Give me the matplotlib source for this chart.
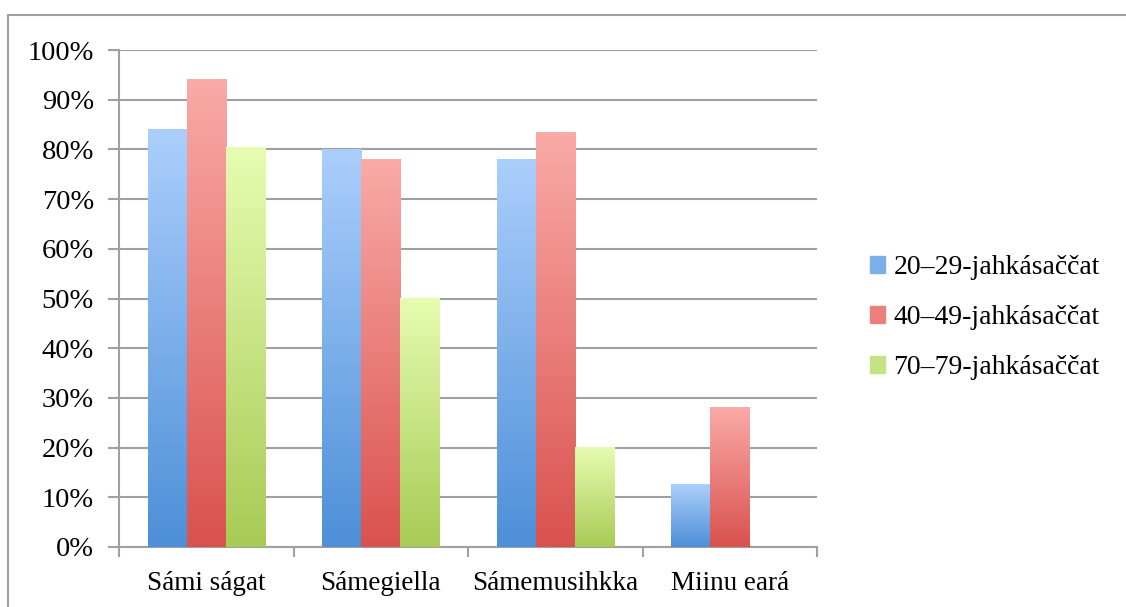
import matplotlib.pyplot as plt
import numpy as np
from matplotlib.colors import LinearSegmentedColormap
from matplotlib.patches import Rectangle, Patch

categories = ['Sámi ságat', 'Sámegiella', 'Sámemusihkka', 'Miinu eará']
series = ['20–29-jahkásaččat', '40–49-jahkásaččat', '70–79-jahkásaččat']
v_20_29 = [84.0, 80.0, 78.0, 12.5]
v_40_49 = [94.0, 78.0, 83.3, 28.0]
v_70_79 = [80.3, 50.0, 20.0, 0.0]
values = [v_20_29, v_40_49, v_70_79]

# (top, bottom) colours of the bar gradients
grads = [('#abcffc', '#4d8fd8'), ('#faaaa7', '#d9524e'), ('#e6fcb1', '#a8cb55')]
mids = ['#7cb0ea', '#ea7f7b', '#c6e383']

plt.rcParams['font.family'] = ['Liberation Serif', 'DejaVu Serif']

fig = plt.figure(figsize=(11.26, 6.07), dpi=100)
ax = fig.add_axes([119/1126, 1 - 547/607, (817 - 119)/1126, (547 - 50)/607])

x = np.arange(len(categories))
w = 0.224
grad = np.linspace(1, 0, 256).reshape(-1, 1)
for i, (vals, (top, bot)) in enumerate(zip(values, grads)):
    bars = ax.bar(x + (i - 1) * w, vals, w, color='none', edgecolor='none', zorder=3)
    cmap = LinearSegmentedColormap.from_list('g%d' % i, [bot, top])
    for b in bars:
        h = b.get_height()
        if h <= 0:
            continue
        ax.imshow(grad, cmap=cmap, aspect='auto', zorder=3,
                  extent=[b.get_x(), b.get_x() + b.get_width(), 0, h],
                  vmin=0, vmax=1, interpolation='bilinear')

ax.set_xlim(-0.5, len(categories) - 0.5)
ax.set_ylim(0, 100)
ax.set_yticks(np.arange(0, 101, 10))
ax.set_yticklabels(['%d%%' % t for t in range(0, 101, 10)])
ax.yaxis.grid(True, color='#a0a0a0', linewidth=1.5, zorder=0)
ax.set_axisbelow(True)

ax.set_xticks(np.arange(-0.5, len(categories), 1))
ax.set_xticklabels([])
ax.set_xticks(x, minor=True)
ax.set_xticklabels(categories, minor=True)
ax.tick_params(axis='x', which='major', length=7, width=1.5, color='#a0a0a0', direction='out')
ax.tick_params(axis='x', which='minor', length=0, labelsize=19.5, pad=17)
ax.tick_params(axis='y', length=8, width=1.5, color='#a0a0a0', labelsize=20.5, pad=10)

for s in ['top', 'right']:
    ax.spines[s].set_visible(False)
for s in ['left', 'bottom']:
    ax.spines[s].set_color('#a0a0a0')
    ax.spines[s].set_linewidth(1.5)

handles = [Patch(color=c, label=s) for c, s in zip(mids, series)]
fig.legend(handles=handles, loc='center left', bbox_to_anchor=(845/1126, 1 - 318/607),
           frameon=False, fontsize=20, handlelength=0.55, handleheight=0.55,
           handletextpad=0.3, labelspacing=0.9)

fig.patches.append(Rectangle((8/1126, -0.1), 1.2, 1 - 15/607 + 0.1,
                             transform=fig.transFigure, fill=False,
                             edgecolor='#a0a0a0', linewidth=1.5))

fig.savefig('out.png', dpi=100)
